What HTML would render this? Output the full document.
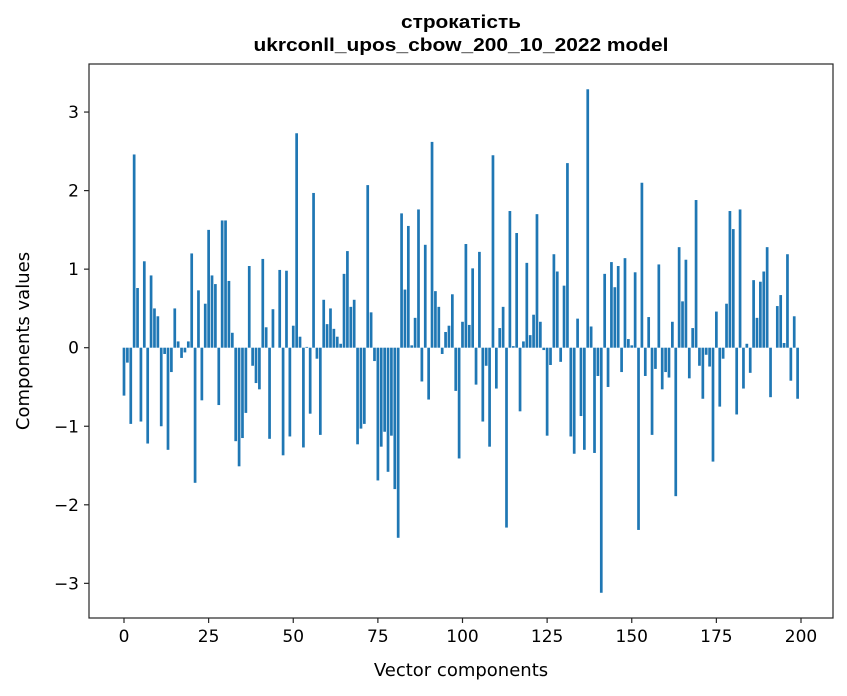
<!DOCTYPE html>
<html><head><meta charset="utf-8">
<style>
html,body{margin:0;padding:0;background:#fff;}
svg{display:block;font-family:"DejaVu Sans","Liberation Sans",sans-serif;}
</style></head>
<body>
<svg id="chart" width="847" height="696" viewBox="0 0 847 696" xmlns="http://www.w3.org/2000/svg">
<rect x="0" y="0" width="847" height="696" fill="#fff"/>
<text x="461" y="28" text-anchor="middle" font-family="Liberation Sans, sans-serif" font-weight="bold" font-size="18" textLength="120" lengthAdjust="spacingAndGlyphs">строкатість</text>
<text x="461" y="51" text-anchor="middle" font-family="Liberation Sans, sans-serif" font-weight="bold" font-size="18" textLength="415" lengthAdjust="spacingAndGlyphs">ukrconll_upos_cbow_200_10_2022 model</text>
<g id="bars"></g>
<g id="xticks"></g>
<g id="yticks"></g>
<rect x="89" y="64" width="744" height="554" fill="none" stroke="#262626" stroke-width="1.2"/>
<text x="461" y="676" text-anchor="middle" font-size="18">Vector components</text>
<text x="0" y="0" text-anchor="middle" font-size="18" transform="translate(29,341) rotate(-90)">Components values</text>
</svg>
<script>
const values = [-0.61,-0.19,-0.97,2.46,0.76,-0.94,1.10,-1.22,0.92,0.50,0.40,-1.00,-0.08,-1.30,-0.31,0.50,0.08,-0.13,-0.06,0.08,
1.20,-1.72,0.73,-0.67,0.56,1.50,0.92,0.81,-0.73,1.62,1.62,0.85,0.19,-1.19,-1.51,-1.15,-0.83,1.04,-0.23,-0.45,
-0.53,1.13,0.26,-1.16,0.49,0.0,0.99,-1.37,0.98,-1.13,0.28,2.73,0.14,-1.27,0.01,-0.84,1.97,-0.14,-1.11,0.61,
0.30,0.50,0.24,0.14,0.05,0.94,1.23,0.52,0.61,-1.23,-1.03,-0.97,2.07,0.45,-0.17,-1.69,-1.26,-1.07,-1.58,-1.12,
-1.80,-2.42,1.71,0.74,1.55,0.03,0.38,1.76,-0.43,1.31,-0.66,2.62,0.72,0.52,-0.08,0.20,0.28,0.68,-0.55,-1.41,
0.33,1.32,0.29,1.01,-0.47,1.22,-0.94,-0.23,-1.26,2.45,-0.52,0.25,0.52,-2.29,1.74,0.02,1.46,-0.81,0.08,1.08,
0.16,0.42,1.70,0.33,-0.03,-1.12,-0.22,1.19,0.97,-0.18,0.79,2.35,-1.13,-1.35,0.37,-0.87,-1.30,3.29,0.27,-1.34,
-0.36,-3.12,0.94,-0.50,1.09,0.77,1.04,-0.31,1.14,0.11,0.03,0.96,-2.32,2.10,-0.36,0.39,-1.11,-0.27,1.06,-0.53,
-0.31,-0.38,0.33,-1.89,1.28,0.59,1.12,-0.39,0.25,1.88,-0.23,-0.65,-0.09,-0.24,-1.45,0.46,-0.75,-0.14,0.56,1.74,
1.51,-0.85,1.76,-0.52,0.05,-0.32,0.86,0.38,0.84,0.97,1.28,-0.63,0.0,0.53,0.67,0.06,1.19,-0.42,0.40,-0.65];
const xTickValues = [0,25,50,75,100,125,150,175,200];
const xTickLabels = ["0","25","50","75","100","125","150","175","200"];
const yTickValues = [-3,-2,-1,0,1,2,3];
const yTickLabels = ["\u22123","\u22122","\u22121","0","1","2","3"];

const NS = "http://www.w3.org/2000/svg";
function xScale(v){ return 124 + 3.385*v; }
function yScale(v){ return 347.7 - 78.55*v; }

const barsG = document.getElementById('bars');
values.forEach(function(v,i){
  const r = document.createElementNS(NS,'rect');
  const w = 0.8*3.385;
  const y0 = yScale(0), y1 = yScale(v);
  r.setAttribute('x', xScale(i) - w/2);
  r.setAttribute('y', Math.min(y0,y1));
  r.setAttribute('width', w);
  r.setAttribute('height', Math.abs(y1-y0));
  r.setAttribute('fill', '#1f77b4');
  
  
  barsG.appendChild(r);
});

const xg = document.getElementById('xticks');
xTickValues.forEach(function(v,i){
  const x = xScale(v);
  const l = document.createElementNS(NS,'line');
  l.setAttribute('x1',x); l.setAttribute('x2',x);
  l.setAttribute('y1',618); l.setAttribute('y2',623);
  l.setAttribute('stroke','#262626'); l.setAttribute('stroke-width','1.2');
  
  
  xg.appendChild(l);
  const t = document.createElementNS(NS,'text');
  t.setAttribute('x',x); t.setAttribute('y',642);
  t.setAttribute('text-anchor','middle'); t.setAttribute('font-size','17');
  t.textContent = xTickLabels[i];
  
  
  xg.appendChild(t);
});

const yg = document.getElementById('yticks');
yTickValues.forEach(function(v,i){
  const y = yScale(v);
  const l = document.createElementNS(NS,'line');
  l.setAttribute('x1',84); l.setAttribute('x2',89);
  l.setAttribute('y1',y); l.setAttribute('y2',y);
  l.setAttribute('stroke','#262626'); l.setAttribute('stroke-width','1.2');
  
  
  yg.appendChild(l);
  const t = document.createElementNS(NS,'text');
  t.setAttribute('x',79); t.setAttribute('y',y+6);
  t.setAttribute('text-anchor','end'); t.setAttribute('font-size','17');
  t.textContent = yTickLabels[i];
  
  
  yg.appendChild(t);
});
</script>
</body></html>
